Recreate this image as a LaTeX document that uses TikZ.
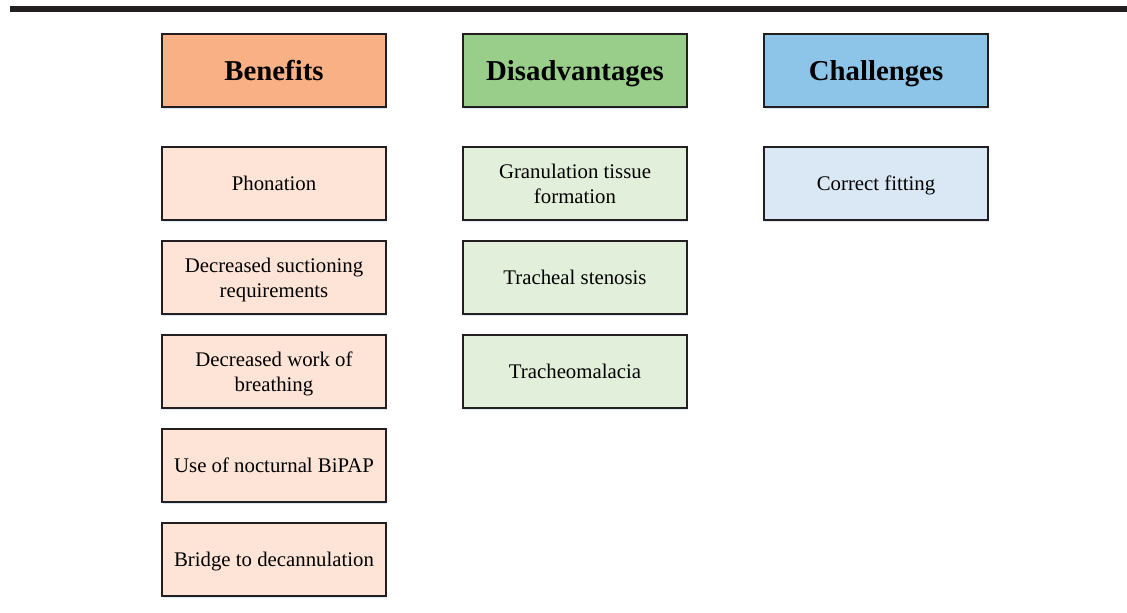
\documentclass[tikz,border=0pt]{standalone}
\usepackage{fontspec}
\setmainfont{Liberation Serif}
\usetikzlibrary{positioning,shadows}
\definecolor{tcInk}{HTML}{231f20}
\definecolor{tcOrange}{HTML}{f9b084}
\definecolor{tcPeach}{HTML}{fde4d6}
\definecolor{tcGreen}{HTML}{98ce8a}
\definecolor{tcMint}{HTML}{e2efda}
\definecolor{tcBlue}{HTML}{8dc5e8}
\definecolor{tcSky}{HTML}{dae8f5}
\definecolor{tcShade}{HTML}{dce8f6}
\newcommand\cardstrut{\rule[-0.3\baselineskip]{0pt}{1.2\baselineskip}}
\newcommand\twoline[2]{\rule{0pt}{0.92\baselineskip}#1\\#2}
\tikzset{
  card/.style={draw=tcInk, line width=1pt, minimum width=112pt, minimum height=36.5pt,
              align=center, inner sep=2pt,
              execute at begin node=\cardstrut, execute at end node=\cardstrut,
              drop shadow={shadow xshift=0.6pt, shadow yshift=-1.2pt, fill=tcShade, opacity=1}},
  head/.style={card, font=\fontsize{14.4}{17}\selectfont\bfseries},
  item/.style={card, font=\fontsize{10.4}{12}\selectfont},
  pair/.style={item, font=\fontsize{10.4}{12.5}\selectfont},
}

\begin{document}
\begin{tikzpicture}
        \useasboundingbox (0,0) rectangle (563.5pt,-306pt);
        \fill[tcInk] (5pt,-3pt) rectangle (563.5pt,-6pt);
        % column headers
        \node[head,fill=tcOrange] (hBen) at (137pt,-35.25pt){Benefits};
        \node[head,fill=tcGreen] (hDis) at (287.5pt,-35.25pt){Disadvantages};
        \node[head,fill=tcBlue] (hCha) at (438pt,-35.25pt){Challenges};
        % benefits
        \node[item,fill=tcPeach,below=19pt of hBen] (b1){Phonation};
        \node[pair,fill=tcPeach,below=9.5pt of b1] (b2){\twoline{Decreased suctioning}{requirements}};
        \node[pair,fill=tcPeach,below=9.5pt of b2] (b3){\twoline{Decreased work of}{breathing}};
        \node[item,fill=tcPeach,below=9.5pt of b3] (b4){Use of nocturnal BiPAP};
        \node[item,fill=tcPeach,below=9.5pt of b4] (b5){Bridge to decannulation};
        % disadvantages
        \node[pair,fill=tcMint,below=19pt of hDis] (d1){\twoline{Granulation tissue}{formation}};
        \node[item,fill=tcMint,below=9.5pt of d1] (d2){Tracheal stenosis};
        \node[item,fill=tcMint,below=9.5pt of d2] (d3){Tracheomalacia};
        % challenges
        \node[item,fill=tcSky,below=19pt of hCha] (c1){Correct fitting};
      \end{tikzpicture}
\end{document}
